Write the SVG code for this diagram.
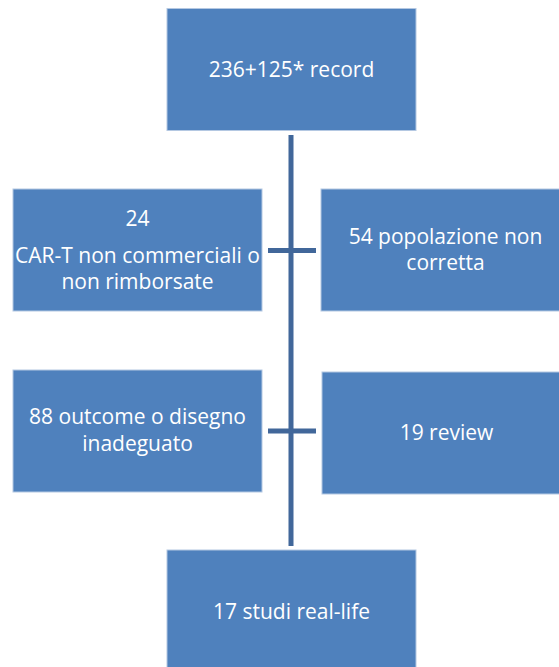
<svg xmlns="http://www.w3.org/2000/svg" width="559" height="667" viewBox="0 0 559 667">
  <style>
    .box { fill: #4F81BD; stroke: #B4C8E2; stroke-width: 1; }
    .lbl { fill: #FFFFFF; font-family: "Open Sans", "Liberation Sans", sans-serif; font-size: 21px; text-anchor: middle; }
    .conn { stroke: #41679A; stroke-width: 5; fill: none; }
  </style>
  <rect width="559" height="667" fill="#FFFFFF"/>

  <!-- connectors: central spine with two side branches -->
  <g id="connectors">
    <line class="conn" x1="291" y1="135" x2="291" y2="546"/>
    <line class="conn" x1="268" y1="250.5" x2="316" y2="250.5"/>
    <line class="conn" x1="268" y1="431" x2="316" y2="431"/>
  </g>

  <g id="records">
    <rect class="box" x="167" y="8.5" width="249" height="122"/>
    <text class="lbl" x="291.5" y="77">236+125* record</text>
  </g>

  <g id="excl-cart">
    <rect class="box" x="13" y="189" width="249" height="122"/>
    <text class="lbl" x="137.5" y="226">24</text>
    <text class="lbl" x="137.5" y="263">CAR-T non commerciali o</text>
    <text class="lbl" x="137.5" y="289">non rimborsate</text>
  </g>

  <g id="excl-popolazione">
    <rect class="box" x="321" y="189" width="249" height="122"/>
    <text class="lbl" x="445.5" y="244">54 popolazione non</text>
    <text class="lbl" x="445.5" y="270">corretta</text>
  </g>

  <g id="excl-outcome">
    <rect class="box" x="13" y="370" width="249" height="122"/>
    <text class="lbl" x="137.5" y="424">88 outcome o disegno</text>
    <text class="lbl" x="137.5" y="451">inadeguato</text>
  </g>

  <g id="excl-review">
    <rect class="box" x="322" y="372" width="249" height="122"/>
    <text class="lbl" x="446.5" y="440">19 review</text>
  </g>

  <g id="studi">
    <rect class="box" x="167" y="550" width="249" height="122"/>
    <text class="lbl" x="291.5" y="619">17 studi real-life</text>
  </g>
</svg>
